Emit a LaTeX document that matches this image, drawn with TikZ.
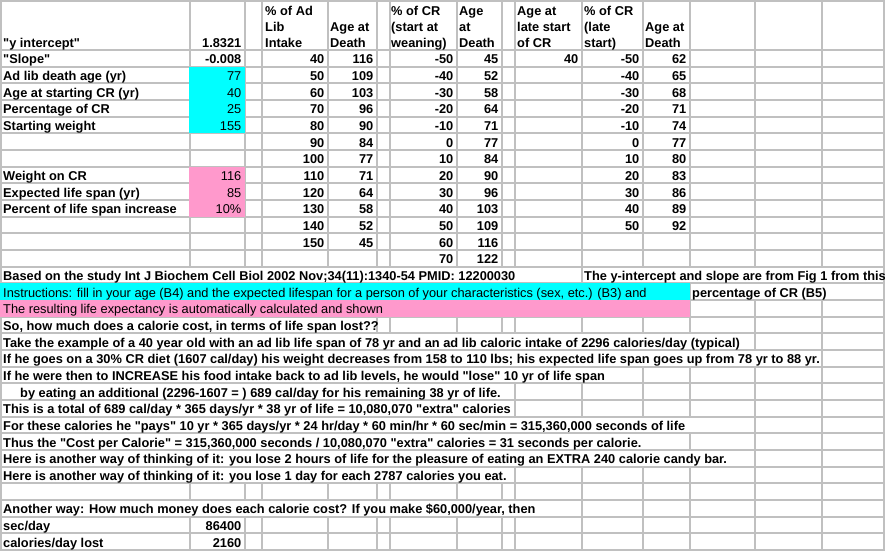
\documentclass[tikz,border=0pt]{standalone}
\usepackage{fontspec}
\newfontfamily\sheetfont{Liberation Sans}
\definecolor{gridgray}{RGB}{192,192,192}
\definecolor{cellcyan}{RGB}{0,255,255}
\definecolor{cellpink}{RGB}{255,153,204}
\begin{document}
\begin{tikzpicture}[x=1pt,y=-1pt,
    grid line/.style={draw=gridgray,line width=2pt},
    cell/.style={font=\sheetfont\fontsize{12.8}{14}\selectfont\bfseries,inner sep=0pt},
    txt/.style={cell,anchor=base west},
    num/.style={cell,anchor=base east},
    val/.style={font=\sheetfont\fontsize{12.8}{14}\selectfont,inner sep=0pt,anchor=base east},
    plain/.style={font=\sheetfont\fontsize{12.8}{14}\selectfont,inner sep=0pt,anchor=base west}]
    \useasboundingbox (0,0) rectangle (885,550);
    \fill[white] (0,0) rectangle (885,550);

    % grid lines
    \draw[grid line] (0,1) -- (885,1);
    \foreach \r in {0,...,30}
        \draw[grid line] (0,{50+16.667*\r}) -- (885,{50+16.667*\r});
    \foreach \c in {1,190,245,262,328,377,390,457,502,515,582,643,690,755,822,884}
        \draw[grid line] (\c,0) -- (\c,550);

    % long texts hide the lines they run over
    \foreach \r/\e in {14/582,17/377,18/755,19/822,20/643,21/515,22/515,23/755,24/690,25/755,26/515,28/582}
        \fill[white] (2,{16.667*\r+34.4}) rectangle ({\e-1.1},{16.667*\r+48.9});
    \fill[white] (583.1,{16.667*14+34.4}) rectangle (882.9,{16.667*14+48.9});
    \fill[white] (691.1,{16.667*15+34.4}) rectangle (882.9,{16.667*15+48.9});

    % coloured cells
    \fill[cellcyan] (188.5,66.7) rectangle (245,133.3);
    \fill[cellpink] (188.5,166.7) rectangle (245,216.7);
    \fill[cellcyan] (0,283.3) rectangle (690,300);
    \fill[cellpink] (0,300) rectangle (690,316.7);

    % header
    \node[txt] (yint) at (3,47) {"y intercept"};
    \node[num] (yintv) at (241.5,47) {1.8321};
    \foreach \x/\yy/\t [count=\i] in {265/15/{\% of Ad},265/31/Lib,265/47/Intake,
        330/31/{Age at},330/47/Death,
        391/15/{\% of CR},391/31/{(start at},391/47/{weaning)},
        459/15/Age,459/31/at,459/47/Death,
        517/15/{Age at},517/31/{late start},517/47/{of CR},
        584/15/{\% of CR},584/31/{(late},584/47/{start)},
        645/31/{Age at},645/47/Death}
        \node[txt] (hd\i) at (\x,\yy) {\t};

    % column A and B
    \foreach \r/\t in {1/{"Slope"},2/{Ad lib death age (yr)},3/{Age at starting CR (yr)},
        4/{Percentage of CR},5/{Starting weight},8/{Weight on CR},
        9/{Expected life span (yr)},10/{Percent of life span increase}}
        \node[txt] (a\r) at (3,{16.667*\r+47.3}) {\t};
    \node[num] (b1) at (241.5,{16.667+47.3}) {-0.008};
    \foreach \r/\t in {2/77,3/40,4/25,5/155,8/116,9/85,10/{10\%}}
        \node[val] (b\r) at (241.5,{16.667*\r+47.3}) {\t};

    % tables
    \foreach \a/\b [count=\r] in {40/116,50/109,60/103,70/96,80/90,90/84,100/77,
        110/71,120/64,130/58,140/52,150/45} {
        \node[num] (d\r) at (324.5,{16.667*\r+47.3}) {\a};
        \node[num] (e\r) at (373.5,{16.667*\r+47.3}) {\b};
    }
    \foreach \a/\b [count=\r] in {-50/45,-40/52,-30/58,-20/64,-10/71,0/77,10/84,
        20/90,30/96,40/103,50/109,60/116,70/122} {
        \node[num] (g\r) at (453.5,{16.667*\r+47.3}) {\a};
        \node[num] (h\r) at (498.5,{16.667*\r+47.3}) {\b};
    }
    \node[num] (j1) at (578.5,{16.667+47.3}) {40};
    \foreach \a/\b [count=\r] in {-50/62,-40/65,-30/68,-20/71,-10/74,0/77,10/80,
        20/83,30/86,40/89,50/92} {
        \node[num] (k\r) at (639.5,{16.667*\r+47.3}) {\a};
        \node[num] (l\r) at (686.5,{16.667*\r+47.3}) {\b};
    }

    % notes
    \node[txt] (a14) at (3,{16.667*14+47.3}) {Based on the study Int J Biochem Cell Biol 2002 Nov;34(11):1340-54 PMID: 12200030};
    \node[txt] (k14) at (584,{16.667*14+47.3}) {The y-intercept and slope are from Fig 1 from this};
    \node[plain] (a15) at (3,{16.667*15+47.3}) {Instructions: fill in your age (B4) and the expected lifespan for a person of your characteristics (sex, etc.) (B3) and};
    \node[txt] (m15) at (692,{16.667*15+47.3}) {percentage of CR (B5)};
    \node[plain] (a16) at (3,{16.667*16+47.3}) {The resulting life expectancy is automatically calculated and shown};
    \foreach \r/\t in {
        17/{So, how much does a calorie cost, in terms of life span lost??},
        18/{Take the example of a 40 year old with an ad lib life span of 78 yr and an ad lib caloric intake of 2296 calories/day (typical)},
        19/{If he goes on a 30\% CR diet (1607 cal/day) his weight decreases from 158 to 110 lbs; his expected life span goes up from 78 yr to 88 yr.},
        20/{If he were then to INCREASE his food intake back to ad lib levels, he would "lose" 10 yr of life span},
        21/{\hspace{17pt}by eating an additional (2296-1607 = ) 689 cal/day for his remaining 38 yr of life.},
        22/{This is a total of 689 cal/day * 365 days/yr * 38 yr of life = 10,080,070 "extra" calories},
        23/{For these calories he "pays" 10 yr * 365 days/yr * 24 hr/day * 60 min/hr * 60 sec/min = 315,360,000 seconds of life},
        24/{Thus the "Cost per Calorie" = 315,360,000 seconds / 10,080,070 "extra" calories = 31 seconds per calorie.},
        25/{Here is another way of thinking of it: you lose 2 hours of life for the pleasure of eating an EXTRA 240 calorie candy bar.},
        26/{Here is another way of thinking of it: you lose 1 day for each 2787 calories you eat.},
        28/{Another way: How much money does each calorie cost? If you make \$60,000/year, then},
        29/{sec/day},
        30/{calories/day lost}}
        \node[txt] (a\r) at (3,{16.667*\r+47.3}) {\t};
    \node[num] (b29) at (241.5,{16.667*29+47.3}) {86400};
    \node[num] (b30) at (241.5,{16.667*30+47.3}) {2160};
\end{tikzpicture}
\end{document}
